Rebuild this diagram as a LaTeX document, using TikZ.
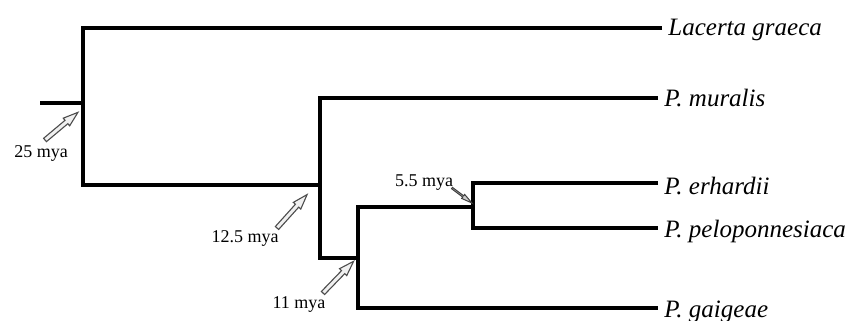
\documentclass[tikz,border=0pt]{standalone}
\usepackage{fontspec}
\setmainfont{Liberation Serif}
\begin{document}
\newcommand{\hollowarr}[5]{% tail, angle, length, style, head
  \begin{scope}[shift={#1}, rotate=#2]
    \draw[#4] (0,-2.2) -- ({#3-#5},-2.2) -- ({#3-#5},-5) -- (#3,0) -- ({#3-#5},5) -- ({#3-#5},2.2) -- (0,2.2) -- cycle;
  \end{scope}}
\begin{tikzpicture}[x=0.5pt,y=-0.5pt,
  branch/.style={line width=2.1pt, line join=miter, line cap=butt},
  taxon/.style={font=\fontsize{12.5}{14}\selectfont\itshape, anchor=base west, inner sep=0pt},
  age/.style={font=\fontsize{9}{10}\selectfont, inner sep=0pt},
  arrsty/.style={draw=gray!60!black, fill=gray!12, line width=0.55pt, line join=miter},
  arrdark/.style={draw=gray!50!black, fill=gray!40, line width=0.5pt, line join=miter}]
\useasboundingbox (0,0) rectangle (853,321);
% taxa
\node[taxon] (lg) at (668,35) {Lacerta graeca};
\node[taxon] (pm) at (664,106) {P. muralis};
\node[taxon] (pe) at (664,194) {P. erhardii};
\node[taxon] (pp) at (664,237) {P. peloponnesiaca};
\node[taxon] (pg) at (664,317) {P. gaigeae};
% junction coordinates
\coordinate (r0) at (40,103);
\coordinate (n1) at (83,103);
\coordinate (n2) at (320,185);
\coordinate (n3) at (358,258);
\coordinate (n4) at (473,207);
\coordinate (lgE) at (662,28);
\coordinate (pmE) at (658,98);
\coordinate (peE) at (658,183);
\coordinate (ppE) at (658,228);
\coordinate (pgE) at (658,308);
% branches
\draw[branch] (r0) -- (n1);
\draw[branch] (lgE) -- (lgE -| n1) -- (n1 |- n2) -- (n2);
\draw[branch] (pmE) -- (pmE -| n2) -- (n2 |- n3) -- (n3);
\draw[branch] (n4) -- (n4 -| n3) -- (n3 |- pgE) -- (pgE);
\draw[branch] (peE) -- (peE -| n4) -- (n4 |- ppE) -- (ppE);
% ages
\node[age] (a25) at (41,153) {25 mya};
\node[age] (a125) at (245,238) {12.5 mya};
\node[age] (a11) at (299,305) {11 mya};
\node[age] (a55) at (424,183) {5.5 mya};
\hollowarr{(45,140)}{40}{43}{arrsty}{15}
\hollowarr{(277,228)}{48}{45}{arrsty}{15}
\hollowarr{(323,293)}{46}{44}{arrsty}{15}
\begin{scope}[shift={(452,188)}, rotate=-37]
  \draw[arrdark] (0,-0.8) -- (14,-0.8) -- (14,-2.5) -- (25,0) -- (14,2.5) -- (14,0.8) -- (0,0.8) -- cycle;
\end{scope}
\end{tikzpicture}
\end{document}
